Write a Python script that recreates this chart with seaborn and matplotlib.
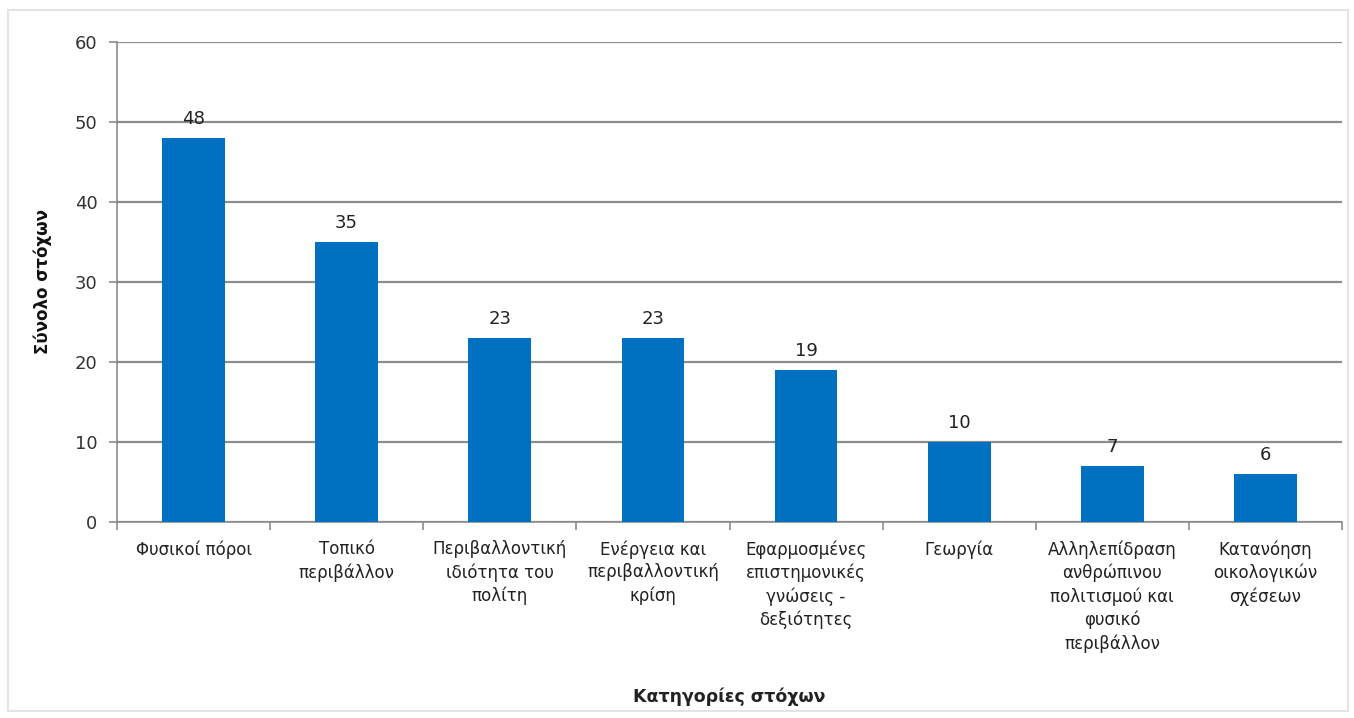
import matplotlib
matplotlib.use("Agg")
import matplotlib.pyplot as plt
import seaborn as sns
import pandas as pd
import numpy as np
from matplotlib.patches import Rectangle

categories = [
    "Φυσικοί πόροι",
    "Τοπικό\nπεριβάλλον",
    "Περιβαλλοντική\nιδιότητα του\nπολίτη",
    "Ενέργεια και\nπεριβαλλοντική\nκρίση",
    "Εφαρμοσμένες\nεπιστημονικές\nγνώσεις -\nδεξιότητες",
    "Γεωργία",
    "Αλληλεπίδραση\nανθρώπινου\nπολιτισμού και\nφυσικό\nπεριβάλλον",
    "Κατανόηση\nοικολογικών\nσχέσεων",
]
values = [48, 35, 23, 23, 19, 10, 7, 6]
yticks = [0, 10, 20, 30, 40, 50, 60]

sns.set_theme(style="white")
plt.rcParams['font.family'] = ['DejaVu Sans']

df = pd.DataFrame({"cat": categories, "val": values})

fig = plt.figure(figsize=(13.54, 7.18), dpi=100)
fig.patch.set_facecolor("white")
# faint outer frame
fig.patches.append(Rectangle((8/1354, 0.01), 1340/1354, 1 - 10/718 - 0.01,
                             transform=fig.transFigure, fill=False,
                             edgecolor="#e4e4e4", linewidth=1.5))

ax = fig.add_axes([117/1354, 1 - 522/718, (1342 - 117)/1354, (522 - 42)/718])
sns.barplot(data=df, x="cat", y="val", color="#0070C0", saturation=1,
            width=0.41, ax=ax, zorder=3, linewidth=0)

ax.set_ylim(0, 60)
ax.set_yticks(yticks)
ax.set_xlim(-0.5, len(categories) - 0.5)
ax.yaxis.grid(True, color="#8c8c8c", linewidth=1.6, zorder=0)
ax.set_axisbelow(True)

for s in ["top", "right"]:
    ax.spines[s].set_visible(False)
ax.spines["left"].set_color("#8c8c8c")
ax.spines["bottom"].set_color("#8c8c8c")
ax.spines["left"].set_linewidth(1.2)
ax.spines["bottom"].set_linewidth(1.2)

ax.tick_params(axis="y", which="major", left=True, length=6, width=1.2,
               color="#8c8c8c", labelsize=13, labelcolor="#333333", pad=8)
ax.tick_params(axis="x", which="major", length=0, labelsize=12,
               labelcolor="#222222", pad=13)
ax.set_xticks(np.arange(-0.5, len(categories), 1.0), minor=True)
ax.tick_params(axis="x", which="minor", bottom=True, length=6, width=1.2,
               color="#8c8c8c")

ax.set_xticklabels(categories, linespacing=1.35)

for c in ax.containers:
    ax.bar_label(c, labels=[str(v) for v in values], padding=7,
                 fontsize=13, color="#222222")

ax.set_xlabel("Κατηγορίες στόχων", fontsize=12.5, fontweight="bold",
              color="#222222")
ax.xaxis.set_label_coords(0.5, -0.345)
ax.set_ylabel("Σύνολο στόχων", fontsize=12, fontweight="bold",
              color="#111111")
ax.yaxis.set_label_coords(-0.053, 0.5)

fig.savefig("out.png", dpi=100, facecolor="white")
